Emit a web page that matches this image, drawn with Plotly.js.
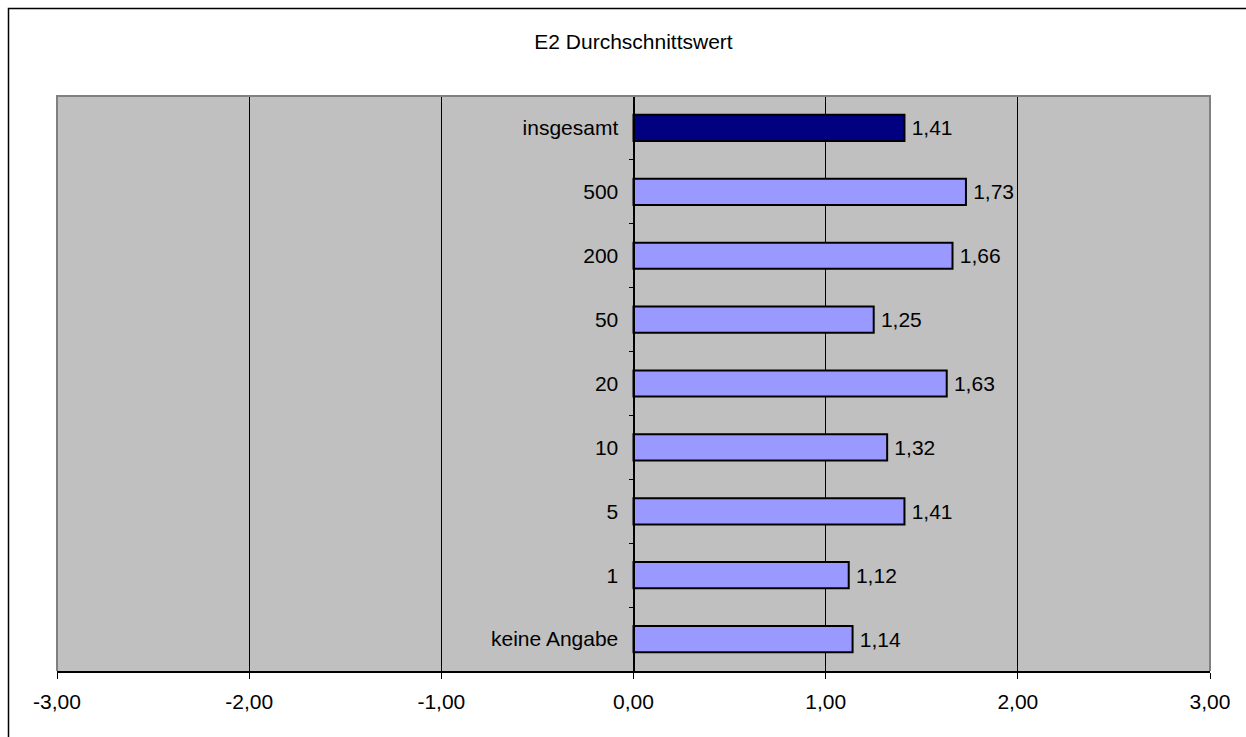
<!DOCTYPE html>
<html>
<head>
<meta charset="utf-8">
<script src="https://cdn.plot.ly/plotly-3.0.1.min.js"></script>
<style>
  html, body { margin: 0; padding: 0; background: #fff; }
  #chart { width: 1246px; height: 737px; }
</style>
</head>
<body>
<div id="chart"></div>
<script>
// Categories from bottom to top
const categories = ['keine Angabe', '1', '5', '10', '20', '50', '200', '500', 'insgesamt'];
const values = [1.14, 1.12, 1.41, 1.32, 1.63, 1.25, 1.66, 1.73, 1.41];
const xTickValues = [-3, -2, -1, 0, 1, 2, 3];
const xTickLabels = ['-3,00', '-2,00', '-1,00', '0,00', '1,00', '2,00', '3,00'];
const chartTitle = 'E2 Durchschnittswert';
const highlightCategory = 'insgesamt';

const barColors = categories.map(c => c === highlightCategory ? '#000080' : '#9999FF');

const FONT = 'Liberation Sans, Arial, sans-serif';
const FS = 21;

const trace = {
  type: 'bar',
  orientation: 'h',
  y: categories,
  x: values,
  width: 0.41,
  marker: { color: barColors, line: { color: '#000000', width: 2 } },
  text: values.map(v => '\u2009' + v.toFixed(2).replace('.', ',')),
  textposition: 'outside',
  cliponaxis: false,
  textfont: { family: FONT, size: FS, color: '#000000' },
  hoverinfo: 'none'
};

const L = 57, R = 36, T = 96, B = 66, W = 1246, H = 737;
const pw = W - L - R, ph = H - T - B;
const px = v => (v - L) / pw;
const py = v => (H - B - v) / ph;

const layout = {
  width: W, height: H,
  margin: { l: L, r: R, t: T, b: B, pad: 0 },
  paper_bgcolor: '#ffffff',
  plot_bgcolor: '#C0C0C0',
  separators: ',.',
  showlegend: false,
  font: { family: FONT, size: FS, color: '#000000' },
  title: {
    text: chartTitle,
    font: { family: FONT, size: FS, color: '#000000' },
    xref: 'paper', x: 0.5, xanchor: 'center',
    yref: 'container', y: 1 - 42 / H, yanchor: 'middle'
  },
  xaxis: {
    range: [-3, 3],
    tickmode: 'array',
    tickvals: xTickValues,
    ticktext: xTickLabels,
    showgrid: true, gridcolor: '#000000', gridwidth: 1,
    zeroline: true, zerolinecolor: '#000000', zerolinewidth: 1,
    showline: true, linecolor: '#000000', linewidth: 2,
    ticks: 'outside', ticklen: 6, tickwidth: 1, tickcolor: '#000000',
    ticklabelstandoff: 5,
    tickfont: { family: FONT, size: FS, color: '#000000' },
    fixedrange: true
  },
  yaxis: {
    type: 'category',
    categoryorder: 'array',
    categoryarray: categories,
    anchor: 'free', position: 0.5,
    showgrid: false, zeroline: false,
    showline: true, linecolor: '#000000', linewidth: 1,
    ticks: 'outside', ticklen: 5, tickwidth: 1, tickcolor: '#000000',
    tickson: 'boundaries',
    ticklabelstandoff: 11,
    tickfont: { family: FONT, size: FS, color: '#000000' },
    fixedrange: true
  },
  shapes: [
    { type: 'path', xref: 'paper', yref: 'paper', layer: 'above',
      path: 'M 0,0 L 0,1 L 1,1 L 1,0',
      line: { color: '#808080', width: 2 } },
    { type: 'path', xref: 'paper', yref: 'paper', layer: 'above',
      path: `M ${px(8.5)},${py(760)} L ${px(8.5)},${py(8.5)} L ${px(1260)},${py(8.5)}`,
      line: { color: '#000000', width: 1.5 } }
  ]
};

Plotly.newPlot('chart', [trace], layout, { displayModeBar: false, staticPlot: true });
</script>
</body>
</html>
